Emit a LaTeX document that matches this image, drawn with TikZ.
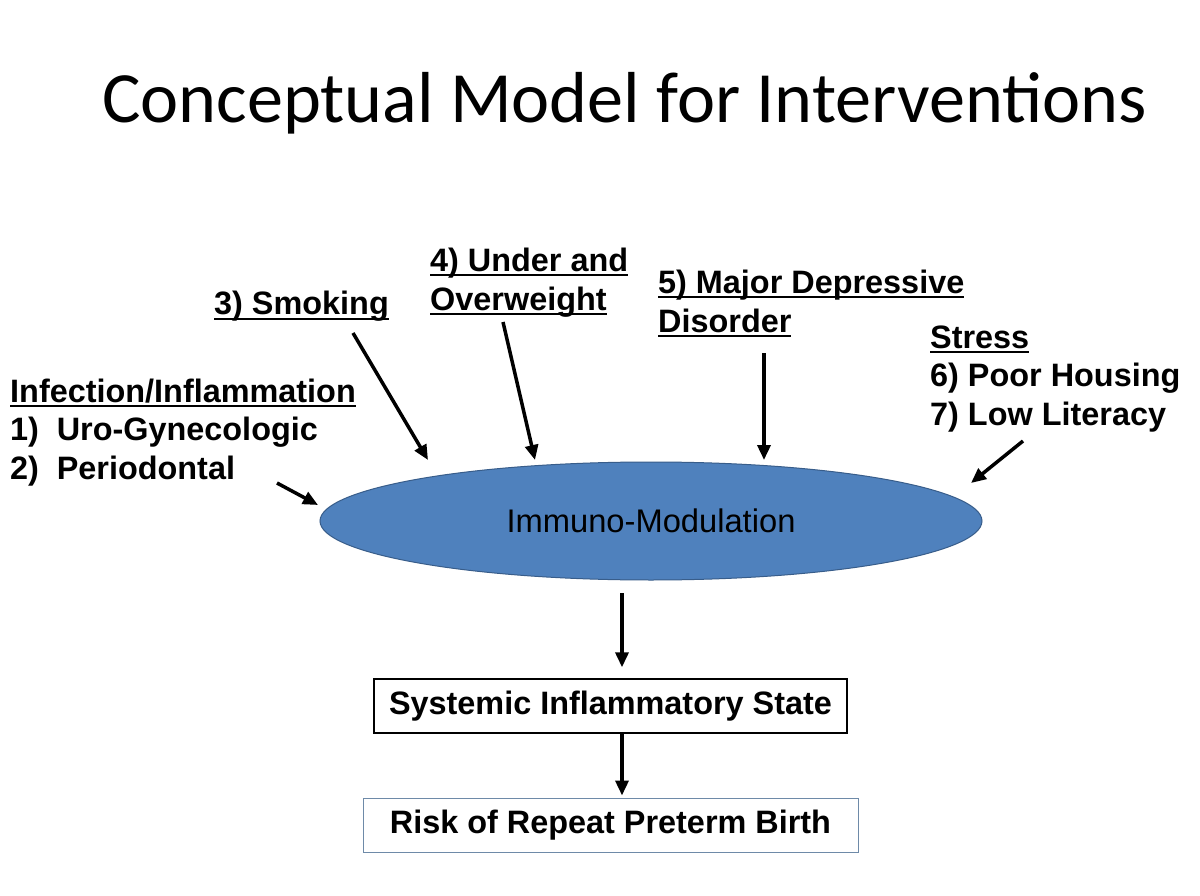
\documentclass[tikz,border=0pt]{standalone}
\usepackage{fontspec}
\setmainfont{Liberation Sans}
\newfontfamily\titlefont{Carlito}
\usetikzlibrary{shapes.geometric,arrows.meta}
\newcommand{\ulx}[1]{{\setbox0\hbox{#1}\rlap{\rule[-4.5pt]{\wd0}{1.8pt}}\box0}}
\definecolor{ellfill}{HTML}{4F81BD}
\definecolor{elldraw}{HTML}{385D8A}
\definecolor{boxtwo}{RGB}{110,138,168}
\tikzset{
  lbl/.style={anchor=base west, align=left, inner sep=0pt, font=\fontsize{32.4}{38.5}\selectfont\bfseries},
  arr/.style={line width=3.5pt, -{Triangle[length=15pt,width=13pt]}},
  boxone/.style={draw=black, line width=1.4pt, minimum width=473pt, minimum height=54pt, inner sep=0pt, font=\fontsize{32.4}{36}\selectfont\bfseries},
  boxtwostyle/.style={draw=boxtwo, line width=1pt, minimum width=495pt, minimum height=54pt, inner sep=0pt, font=\fontsize{32.4}{36}\selectfont\bfseries}
}
\begin{document}
\begin{tikzpicture}[x=1pt,y=-1pt]
\useasboundingbox[fill=white] (0,0) rectangle (1200,896);
\node[anchor=base west, inner sep=0pt, font=\fontsize{72.2}{80}\selectfont\titlefont] (title) at (102,123) {Conceptual Model for Interventions};

\node[ellipse, fill=ellfill, draw=elldraw, line width=1pt, minimum width=662pt, minimum height=118pt, inner sep=0pt, font=\fontsize{32.7}{36}\selectfont] (ell) at (651,521) {Immuno-Modulation};

\node[boxone] (sys) at (610.5,706) {Systemic Inflammatory State};
\node[boxtwostyle] (risk) at (610.5,825) {Risk of Repeat Preterm Birth};

% multi-line nodes: base anchor = baseline of last line
\node[lbl] (inf) at (10,479) {\ulx{Infection/Inflammation}\\1)\hspace{0.55em}Uro-Gynecologic\\2)\hspace{0.55em}Periodontal};
\node[lbl] (smk) at (214,315) {\ulx{3) Smoking}};
\node[lbl] (wt) at (430,310) {\ulx{4) Under and}\\\ulx{Overweight}};
\node[lbl] (dep) at (658,332) {\ulx{5) Major Depressive}\\\ulx{Disorder}};
\node[lbl] (str) at (930,425) {\ulx{Stress}\\6) Poor Housing\\7) Low Literacy};

\coordinate (a1s) at (277,483); \coordinate (a1e) at (318,505);
\coordinate (a2s) at (353,333); \coordinate (a2e) at (428,460);
\coordinate (a3s) at (503,322); \coordinate (a3e) at (535,460);
\coordinate (a4s) at (764,353); \coordinate (a4e) at (764,460);
\coordinate (a5s) at (1023,441); \coordinate (a5e) at (971,483);
\coordinate (m1) at (622,593);

\draw[arr] (a1s) -- (a1e);
\draw[arr] (a2s) -- (a2e);
\draw[arr] (a3s) -- (a3e);
\draw[arr] (a4s) -- (a4e);
\draw[arr] (a5s) -- (a5e);
\draw[arr, shorten >=11pt] (m1) -- (sys.north -| m1);
\draw[arr, shorten >=2pt] (sys.south -| m1) -- (risk.north -| m1);
\end{tikzpicture}
\end{document}
